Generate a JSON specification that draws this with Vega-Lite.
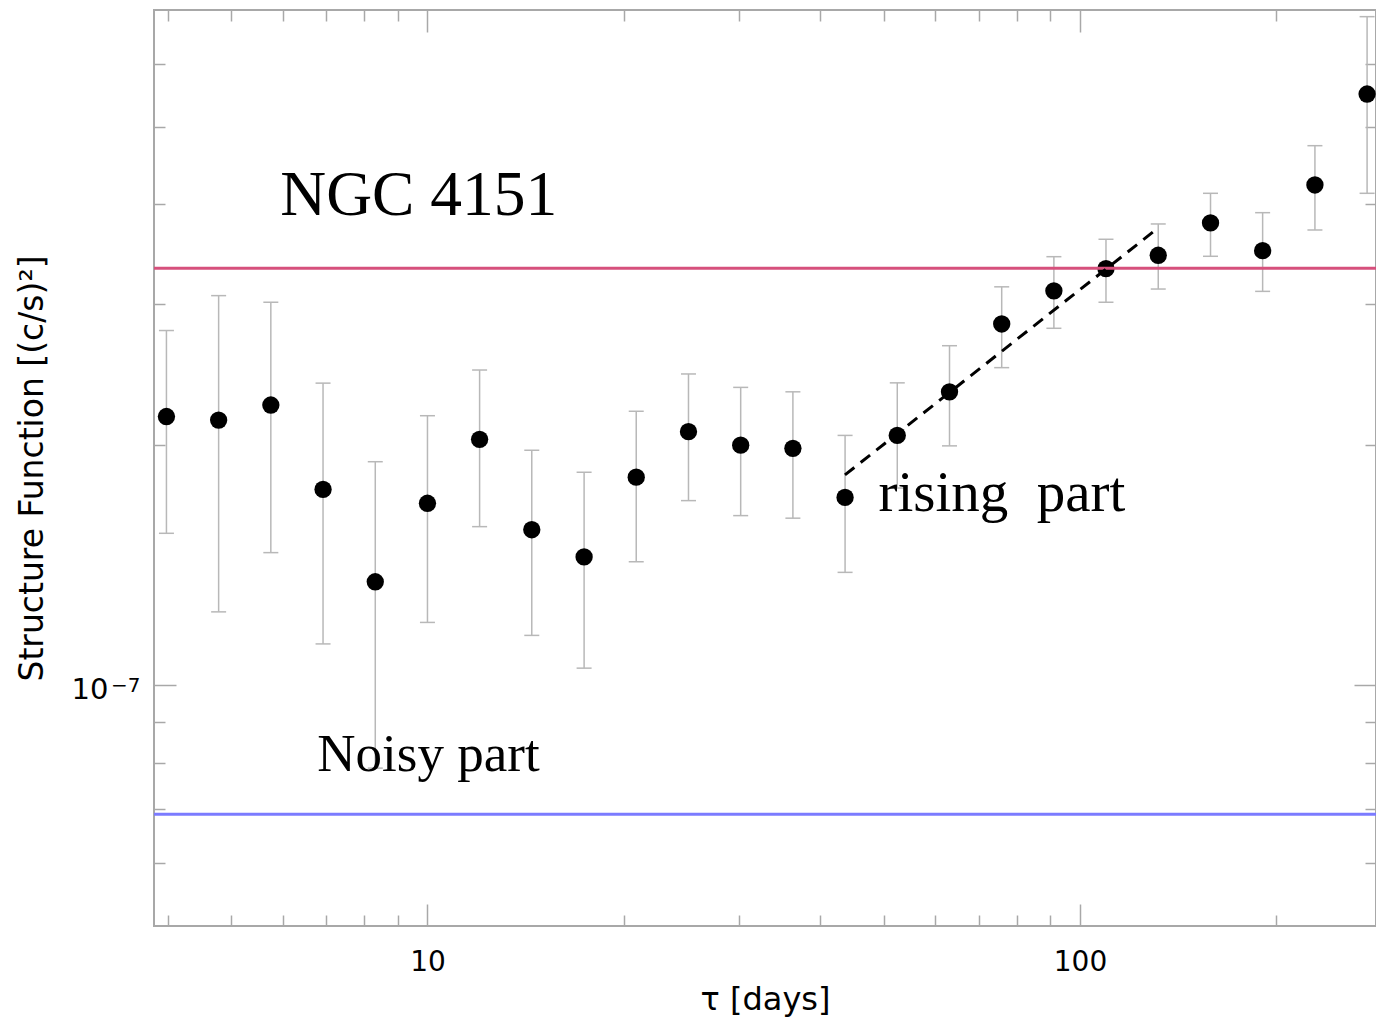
{
  "$schema": "https://vega.github.io/schema/vega-lite/v6.json",
  "width": 1222,
  "height": 916,
  "autosize": {"type": "none"},
  "padding": {"left": 154, "top": 10, "right": 0, "bottom": 98},
  "background": "white",
  "config": {
    "view": {"stroke": "#a8a8a8", "strokeWidth": 2},
    "axis": {
      "domain": false,
      "grid": false,
      "tickColor": "#a8a8a8",
      "tickWidth": 1.5,
      "labelFont": "DejaVu Sans",
      "titleFont": "DejaVu Sans",
      "labelColor": "black",
      "titleColor": "black",
      "titleFontWeight": "normal"
    }
  },
  "datasets": {
    "sf": [
      {"tau": 3.981, "sf": 2.17e-7, "lo": 1.55e-7, "hi": 2.78e-7},
      {"tau": 4.786, "sf": 2.148e-7, "lo": 1.236e-7, "hi": 3.074e-7},
      {"tau": 5.754, "sf": 2.243e-7, "lo": 1.466e-7, "hi": 3.016e-7},
      {"tau": 6.918, "sf": 1.759e-7, "lo": 1.127e-7, "hi": 2.389e-7},
      {"tau": 8.318, "sf": 1.348e-7, "lo": 7.88e-8, "hi": 1.905e-7},
      {"tau": 10.0, "sf": 1.69e-7, "lo": 1.199e-7, "hi": 2.175e-7},
      {"tau": 12.02, "sf": 2.032e-7, "lo": 1.58e-7, "hi": 2.481e-7},
      {"tau": 14.45, "sf": 1.566e-7, "lo": 1.155e-7, "hi": 1.969e-7},
      {"tau": 17.38, "sf": 1.448e-7, "lo": 1.051e-7, "hi": 1.848e-7},
      {"tau": 20.89, "sf": 1.822e-7, "lo": 1.428e-7, "hi": 2.203e-7},
      {"tau": 25.12, "sf": 2.077e-7, "lo": 1.703e-7, "hi": 2.453e-7},
      {"tau": 30.2, "sf": 1.998e-7, "lo": 1.631e-7, "hi": 2.36e-7},
      {"tau": 36.31, "sf": 1.98e-7, "lo": 1.619e-7, "hi": 2.33e-7},
      {"tau": 43.65, "sf": 1.719e-7, "lo": 1.385e-7, "hi": 2.055e-7},
      {"tau": 52.48, "sf": 2.055e-7, "lo": 1.766e-7, "hi": 2.391e-7},
      {"tau": 63.1, "sf": 2.33e-7, "lo": 1.994e-7, "hi": 2.661e-7},
      {"tau": 75.86, "sf": 2.833e-7, "lo": 2.498e-7, "hi": 3.153e-7},
      {"tau": 91.2, "sf": 3.117e-7, "lo": 2.798e-7, "hi": 3.439e-7},
      {"tau": 109.6, "sf": 3.322e-7, "lo": 3.016e-7, "hi": 3.616e-7},
      {"tau": 131.8, "sf": 3.453e-7, "lo": 3.133e-7, "hi": 3.779e-7},
      {"tau": 158.5, "sf": 3.79e-7, "lo": 3.443e-7, "hi": 4.128e-7},
      {"tau": 190.5, "sf": 3.499e-7, "lo": 3.112e-7, "hi": 3.904e-7},
      {"tau": 229.1, "sf": 4.228e-7, "lo": 3.714e-7, "hi": 4.735e-7},
      {"tau": 275.4, "sf": 5.495e-7, "lo": 4.128e-7, "hi": 6.867e-7}
    ],
    "levels": [
      {"level": "upper", "sf": 3.326e-7},
      {"level": "lower", "sf": 6.9e-8}
    ],
    "fit": [
      {"tau": 43.63, "sf": 1.834e-7},
      {"tau": 131.6, "sf": 3.733e-7}
    ],
    "labels": [
      {"id": "title", "text": "NGC 4151", "tau": 5.95, "sf": 3.879e-7},
      {"id": "noisy", "text": "Noisy part", "tau": 6.78, "sf": 7.82e-8},
      {"id": "rising", "text": "rising\u00a0 part", "tau": 49.1, "sf": 1.654e-7}
    ]
  },
  "resolve": {"axis": {"x": "independent", "y": "independent"}},
  "layer": [
    {
      "data": {"name": "sf"},
      "mark": {"type": "rule", "color": "#b8b8b8", "strokeWidth": 1.5},
      "encoding": {
        "x": {"field": "tau", "type": "quantitative",
              "scale": {"type": "log", "domain": [3.81, 284.2], "nice": false},
              "axis": {"orient": "bottom", "values": [4, 5, 6, 7, 8, 9, 20, 30, 40, 50, 60, 70, 80, 90, 200], "tickSize": -11, "labels": false, "title": null}},
        "y": {"field": "lo", "type": "quantitative",
              "scale": {"type": "log", "domain": [5e-8, 7e-7], "nice": false},
              "axis": {"orient": "left", "values": [6e-8, 7e-8, 8e-8, 9e-8, 2e-7, 3e-7, 4e-7, 5e-7, 6e-7], "tickSize": -11, "labels": false, "title": null}},
        "y2": {"field": "hi"}
      }
    },
    {
      "data": {"name": "sf"},
      "mark": {"type": "tick", "orient": "horizontal", "size": 15, "thickness": 1.5, "color": "#b8b8b8", "opacity": 1},
      "encoding": {
        "x": {"field": "tau", "type": "quantitative",
              "scale": {"type": "log", "domain": [3.81, 284.2], "nice": false},
              "axis": {"orient": "top", "values": [4, 5, 6, 7, 8, 9, 20, 30, 40, 50, 60, 70, 80, 90, 200], "tickSize": -11, "labels": false, "title": null}},
        "y": {"field": "lo", "type": "quantitative",
              "scale": {"type": "log", "domain": [5e-8, 7e-7], "nice": false},
              "axis": {"orient": "right", "values": [6e-8, 7e-8, 8e-8, 9e-8, 2e-7, 3e-7, 4e-7, 5e-7, 6e-7], "tickSize": -11, "labels": false, "title": null}}
      }
    },
    {
      "data": {"name": "sf"},
      "mark": {"type": "tick", "orient": "horizontal", "size": 15, "thickness": 1.5, "color": "#b8b8b8", "opacity": 1},
      "encoding": {
        "x": {"field": "tau", "type": "quantitative",
              "scale": {"type": "log", "domain": [3.81, 284.2], "nice": false},
              "axis": {"orient": "top", "values": [10, 100], "tickSize": -22, "labels": false, "title": null}},
        "y": {"field": "hi", "type": "quantitative",
              "scale": {"type": "log", "domain": [5e-8, 7e-7], "nice": false},
              "axis": {"orient": "right", "values": [1e-7], "tickSize": -22, "labels": false, "title": null}}
      }
    },
    {
      "data": {"name": "sf"},
      "mark": {"type": "circle", "size": 300, "color": "black", "opacity": 1},
      "encoding": {
        "x": {"field": "tau", "type": "quantitative",
              "scale": {"type": "log", "domain": [3.81, 284.2], "nice": false},
              "axis": {"orient": "bottom", "values": [10, 100], "format": "d", "tickSize": -22, "labelPadding": 44, "labelFontSize": 28, "title": "τ [days]", "titleFontSize": 32, "titlePadding": 8}},
        "y": {"field": "sf", "type": "quantitative",
              "scale": {"type": "log", "domain": [5e-8, 7e-7], "nice": false},
              "axis": {"orient": "left", "values": [1e-7], "labelExpr": "'10'", "tickSize": -22, "labelPadding": 68, "labelOffset": 4, "labelFontSize": 29, "title": "Structure Function [(c/s)²]", "titleFontSize": 33, "titlePadding": 22}}
      }
    },
    {
      "data": {"name": "levels"},
      "mark": {"type": "rule", "strokeWidth": 3},
      "encoding": {
        "y": {"field": "sf", "type": "quantitative",
              "scale": {"type": "log", "domain": [5e-8, 7e-7], "nice": false},
              "axis": null},
        "color": {"field": "level", "type": "nominal",
                  "scale": {"domain": ["upper", "lower"], "range": ["#d6507c", "#7b7bff"]},
                  "legend": null}
      }
    },
    {
      "data": {"name": "fit"},
      "mark": {"type": "line", "color": "black", "strokeWidth": 3, "strokeDash": [12, 8]},
      "encoding": {
        "x": {"field": "tau", "type": "quantitative",
              "scale": {"type": "log", "domain": [3.81, 284.2], "nice": false}, "axis": null},
        "y": {"field": "sf", "type": "quantitative",
              "scale": {"type": "log", "domain": [5e-8, 7e-7], "nice": false},
              "axis": {"orient": "left", "values": [1e-7], "labelExpr": "'−7'", "ticks": true, "tickSize": 0, "tickOpacity": 0, "labelPadding": 14, "labelOffset": -10, "labelBaseline": "top", "labelFontSize": 20, "title": null}}
      }
    },
    {
      "data": {"name": "labels"},
      "transform": [{"filter": "datum.id == 'title'"}],
      "mark": {"type": "text", "font": "Liberation Serif", "fontSize": 63.5, "align": "left", "baseline": "alphabetic", "color": "black"},
      "encoding": {
        "x": {"field": "tau", "type": "quantitative",
              "scale": {"type": "log", "domain": [3.81, 284.2], "nice": false}, "axis": null},
        "y": {"field": "sf", "type": "quantitative",
              "scale": {"type": "log", "domain": [5e-8, 7e-7], "nice": false}, "axis": null},
        "text": {"field": "text"}
      }
    },
    {
      "data": {"name": "labels"},
      "transform": [{"filter": "datum.id == 'noisy'"}],
      "mark": {"type": "text", "font": "Liberation Serif", "fontSize": 53, "align": "left", "baseline": "alphabetic", "color": "black"},
      "encoding": {
        "x": {"field": "tau", "type": "quantitative",
              "scale": {"type": "log", "domain": [3.81, 284.2], "nice": false}, "axis": null},
        "y": {"field": "sf", "type": "quantitative",
              "scale": {"type": "log", "domain": [5e-8, 7e-7], "nice": false}, "axis": null},
        "text": {"field": "text"}
      }
    },
    {
      "data": {"name": "labels"},
      "transform": [{"filter": "datum.id == 'rising'"}],
      "mark": {"type": "text", "font": "Liberation Serif", "fontSize": 57, "align": "left", "baseline": "alphabetic", "color": "black"},
      "encoding": {
        "x": {"field": "tau", "type": "quantitative",
              "scale": {"type": "log", "domain": [3.81, 284.2], "nice": false}, "axis": null},
        "y": {"field": "sf", "type": "quantitative",
              "scale": {"type": "log", "domain": [5e-8, 7e-7], "nice": false}, "axis": null},
        "text": {"field": "text"}
      }
    }
  ]
}
